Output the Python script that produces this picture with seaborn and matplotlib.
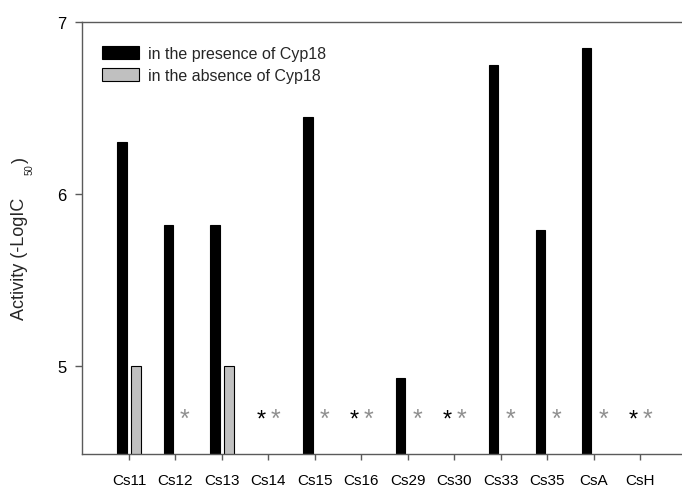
import numpy as np
import pandas as pd
import matplotlib
matplotlib.use("Agg")
import matplotlib.pyplot as plt
import seaborn as sns

compounds = ["Cs11", "Cs12", "Cs13", "Cs14", "Cs15", "Cs16",
             "Cs29", "Cs30", "Cs33", "Cs35", "CsA", "CsH"]
presence = [6.30, 5.82, 5.82, np.nan, 6.45, np.nan,
            4.93, np.nan, 6.75, 5.79, 6.85, np.nan]
absence = [5.00, np.nan, 5.00, np.nan, np.nan, np.nan,
           np.nan, np.nan, np.nan, np.nan, np.nan, np.nan]
series_labels = ["in the presence of Cyp18", "in the absence of Cyp18"]
y_ticks = [5, 6, 7]

sns.set_theme(style="white")
plt.rcParams["font.family"] = ["Liberation Sans", "DejaVu Sans"]

df = pd.DataFrame({
    "compound": compounds * 2,
    "value": presence + absence,
    "condition": [series_labels[0]] * len(compounds) + [series_labels[1]] * len(compounds),
})

W, H = 682, 489
fig = plt.figure(figsize=(W / 100, H / 100), dpi=100)
ax = fig.add_axes([82 / W, 1 - 455 / H, 1 - 82 / W, (455 - 23) / H])

sns.barplot(data=df, x="compound", y="value", hue="condition",
            order=compounds, hue_order=series_labels,
            palette={series_labels[0]: "black", series_labels[1]: "#c0c0c0"},
            width=0.6, gap=0.33, edgecolor="black", linewidth=0.8,
            errorbar=None, ax=ax)

ax.set_ylim(4.49, 7.0)
ax.set_xlim(-1.01, 11.9)
ax.set_yticks(y_ticks)
ax.set_yticklabels([str(t) for t in y_ticks])
ax.set_xlabel("")
ax.set_ylabel("")

spine_color = "#5a5a5a"
for side in ["left", "bottom", "top"]:
    ax.spines[side].set_visible(True)
    ax.spines[side].set_color(spine_color)
    ax.spines[side].set_linewidth(1.0)
ax.spines["right"].set_visible(False)

ax.tick_params(axis="x", direction="out", length=4, width=1, color=spine_color,
               pad=10, labelsize=11, labelcolor="black", bottom=True)
ax.tick_params(axis="y", direction="out", length=5, width=1, color=spine_color,
               pad=6, labelsize=12, labelcolor="black", left=True)

# missing-value asterisks
for i, (p, a) in enumerate(zip(presence, absence)):
    both = np.isnan(p) and np.isnan(a)
    if np.isnan(p):
        ax.text(i - 0.15, 4.655, "*", color="black", fontsize=17,
                ha="center", va="baseline")
    if np.isnan(a):
        ax.text(i + (0.15 if both else 0.2), 4.655, "*", color="#8f8f8f",
                fontsize=18, ha="center", va="baseline")

handles, labels = ax.get_legend_handles_labels()
ax.legend(handles, labels, loc="upper left", bbox_to_anchor=(0.033, 0.945),
          frameon=False, fontsize=11.5, handlelength=2.3, handleheight=0.85,
          handletextpad=0.6, labelspacing=0.45, borderpad=0, borderaxespad=0)

fig.text(20 / W, 1 - 259 / H, "Activity (-LogIC", rotation=90, fontsize=13,
         ha="center", va="center")
fig.text(30 / W, 1 - 170 / H, "50", rotation=90, fontsize=7,
         ha="center", va="center")
fig.text(20 / W, 1 - 160 / H, ")", rotation=90, fontsize=13,
         ha="center", va="center")

fig.savefig("out.png", dpi=100)
